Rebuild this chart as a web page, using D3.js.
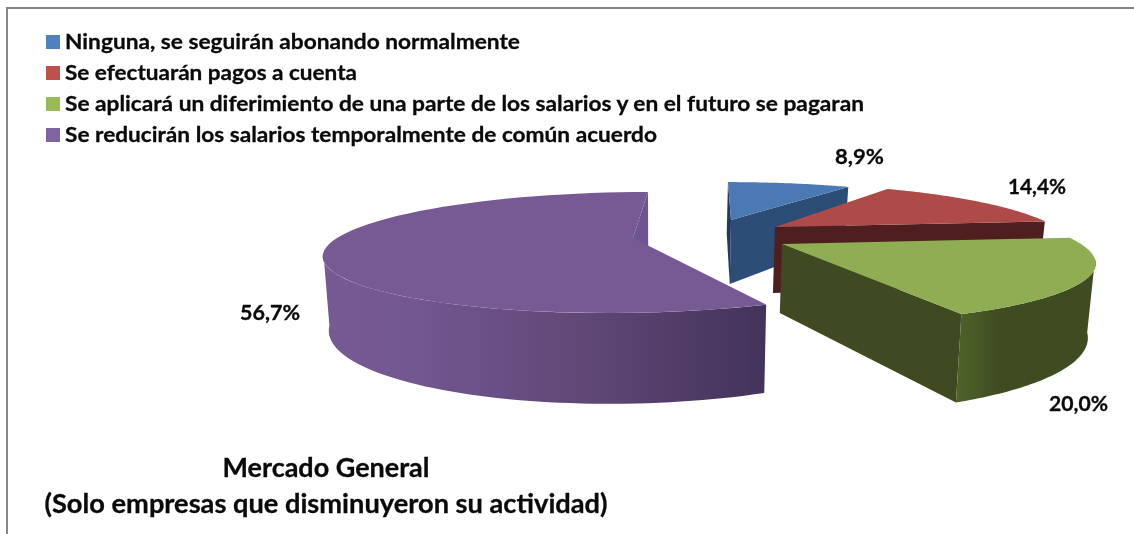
<!DOCTYPE html>
<html><head><meta charset="utf-8">
<script src="https://d3js.org/d3.v7.min.js"></script>
<style>html,body{margin:0;padding:0;background:#fff}svg{display:block;filter:blur(0.35px)}text{font-family:Lato,"Open Sans",sans-serif;font-weight:700;fill:#0a0a0a;stroke:#0a0a0a;stroke-width:0.3px}</style>
</head><body><svg id="c" width="1134" height="534"></svg>
<script>
const categories = [
  "Ninguna, se seguirán abonando normalmente",
  "Se efectuarán pagos a cuenta",
  "Se aplicará un diferimiento de una parte de los salarios y en el futuro se pagaran",
  "Se reducirán los salarios temporalmente de común acuerdo"
];
const values = [8.9, 14.4, 20.0, 56.7];
const valueLabels = ["8,9%", "14,4%", "20,0%", "56,7%"];
const titleLines = ["Mercado General", "(Solo empresas que disminuyeron su actividad)"];

// Styling
const legendColors = ["#4f81bd", "#c0504d", "#9bbb59", "#8064a2"];
const topColors = ["#4a79b3", "#ae4a47", "#8fad53", "#775a94"];
const wallColors = ["#2c4d75", "#4f1f1f", "#3f4a22", "#6e5490"];
const startWallColors = ["#1f3a5c", null, null, null];

// Projection of each exploded slice (apex, radii, skew toward the vanishing point, wall height)
const sliceGeom = [
  {ax: 731, ay: 220, rx: 272, ry: 47, sk: 0.08, h: 64},
  {ax: 775, ay: 227, rx: 280, ry: 54, sk: 0.29, h: 66},
  {ax: 782, ay: 244, rx: 299, ry: 60, sk: 0.327, h: 69},
  {ax: 633, ay: 238, rx: 296, ry: 57, sk: -0.326, h: 69}
];
const persp = 0.24, convX = 660, conv = 0.018;
// Layout of the texts: [x centre, baseline, width]
const labelPos = [[859.5, 164, 49], [1037, 194, 58], [1078.5, 411, 59], [270, 320, 60]];
const legendWidths = [455, 292, 799, 592];
const titleWidths = [207, 563];

const svg = d3.select("#c");
const defs = svg.append("defs");
function grad(id, x1, x2, stops) {
  const g = defs.append("linearGradient").attr("id", id).attr("gradientUnits", "userSpaceOnUse")
    .attr("x1", x1).attr("x2", x2).attr("y1", 0).attr("y2", 0);
  stops.forEach(s => g.append("stop").attr("offset", s[0]).attr("stop-color", s[1]));
}
grad("gPurple", 322, 764, [[0, "#775a94"], [0.2, "#735791"], [0.6, "#5f4776"], [1, "#43335a"]]);
grad("gGreen", 958, 1095, [[0, "#4f622a"], [0.3, "#3f4c22"], [1, "#3f4c22"]]);
const curvedFill = [null, null, "url(#gGreen)", "url(#gPurple)"];

// frame
svg.append("rect").attr("x", 6).attr("y", 7).attr("width", 1128).attr("height", 2).attr("fill", "#868686");
svg.append("rect").attr("x", 6).attr("y", 7).attr("width", 2).attr("height", 527).attr("fill", "#868686");

// legend
const rows = [42, 73, 104, 135];
const legend = svg.append("g").selectAll("g").data(categories).join("g")
  .attr("transform", (d, i) => `translate(46,${rows[i]})`);
legend.append("rect").attr("y", -7).attr("width", 14).attr("height", 14).attr("fill", (d, i) => legendColors[i]);
legend.append("text").attr("x", 19).attr("y", 7).attr("font-size", 21.5)
  .attr("textLength", (d, i) => legendWidths[i]).attr("lengthAdjust", "spacingAndGlyphs").text(d => d);

// pie geometry from d3.pie
const arcs = d3.pie().sort(null).value(d => d)(values);
const project = (g, t, down) => {
  const s = 1 / (1 + persp * Math.cos(t));
  const dy = -g.ry * Math.cos(t) * s;
  let x = g.ax + g.rx * Math.sin(t) * s + g.sk * dy;
  let y = g.ay + dy;
  if (down) { y += g.h * s; x += (convX - x) * conv; }
  return [x, y];
};
const samples = (a, b) => d3.range(0, 61).map(i => a + (b - a) * i / 60);
const line = d3.line();
const frontA = Math.acos(-persp), frontB = 2 * Math.PI - frontA;

const order = [3, 0, 1, 2];
order.forEach(i => {
  const g = sliceGeom[i], a = arcs[i], lay = svg.append("g");
  const a0 = a.startAngle, a1 = a.endAngle;
  const apex = [g.ax, g.ay];
  const apexB = [g.ax + (convX - g.ax) * conv, g.ay + g.h];
  lay.append("path").attr("fill", wallColors[i]).attr("d", line([apex, project(g, a1), project(g, a1, true), apexB]) + "Z");
  if (startWallColors[i]) lay.append("path").attr("fill", startWallColors[i])
    .attr("d", line([apex, project(g, a0), project(g, a0, true), apexB]) + "Z");
  const c0 = Math.max(a0, frontA), c1 = Math.min(a1, frontB);
  if (c1 > c0 && curvedFill[i]) {
    const th = samples(c0, c1);
    const pts = th.map(t => project(g, t)).concat(th.slice().reverse().map(t => project(g, t, true)));
    lay.append("path").attr("fill", curvedFill[i]).attr("d", line(pts) + "Z");
  }
  const top = [apex].concat(samples(a0, a1).map(t => project(g, t)));
  lay.append("path").attr("fill", topColors[i]).attr("d", line(top) + "Z");
});

// value labels
svg.append("g").selectAll("text").data(valueLabels).join("text")
  .attr("x", (d, i) => labelPos[i][0]).attr("y", (d, i) => labelPos[i][1])
  .attr("text-anchor", "middle").attr("font-size", 21.5)
  .attr("textLength", (d, i) => labelPos[i][2]).attr("lengthAdjust", "spacingAndGlyphs").text(d => d);

// title
svg.append("g").selectAll("text").data(titleLines).join("text")
  .attr("x", 326).attr("y", (d, i) => 476.5 + i * 36)
  .attr("text-anchor", "middle").attr("font-size", 26.5)
  .attr("textLength", (d, i) => titleWidths[i]).attr("lengthAdjust", "spacingAndGlyphs").text(d => d);
</script></body></html>
